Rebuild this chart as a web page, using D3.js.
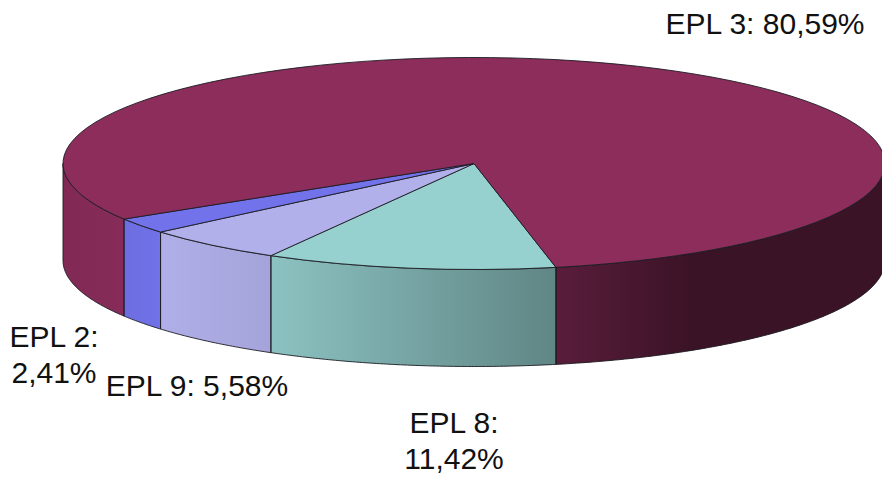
<!DOCTYPE html>
<html>
<head>
<meta charset="utf-8">
<script src="https://cdnjs.cloudflare.com/ajax/libs/d3/7.8.5/d3.min.js"></script>
<style>
  html, body { margin: 0; padding: 0; background: #fff; overflow: hidden; }
  text { font-family: "Liberation Sans", Arial, sans-serif; font-size: 30px; fill: #111; }
</style>
</head>
<body>
<svg width="882" height="477"></svg>
<script>
const categories = ['EPL 8', 'EPL 9', 'EPL 2', 'EPL 3'];
const shares = [11.42, 5.58, 2.41, 80.59];
const colors = ['#96d1d0', '#b1b0ea', '#7272ea', '#8c2d5c'];

// label lines and where they sit, same order as categories
const labelBreaks = [true, false, true, false];
const labelX = [454, 197, 54, 765];
const labelY = [433, 396, 347, 34];

const cx = 474, cy = 163.5, rx = 411, ry = 106, depth = 97;
const startDeg = 168.5;
const rad = Math.PI / 180;

const svg = d3.select('svg');
const defs = svg.append('defs');

// wall shading, dark overlay that grows to the right
const shadeX = [63, 160, 270, 555, 690, 882];
const shadeO = [0.08, 0.01, 0.07, 0.36, 0.58, 0.58];
defs.append('linearGradient')
  .attr('id', 'shade')
  .attr('gradientUnits', 'userSpaceOnUse')
  .attr('x1', 63).attr('x2', 882).attr('y1', 0).attr('y2', 0)
  .selectAll('stop')
  .data(shadeX)
  .join('stop')
  .attr('offset', d => (d - 63) / (882 - 63))
  .attr('stop-color', '#000')
  .attr('stop-opacity', (d, i) => shadeO[i]);

const pie = d3.pie()
  .sort(null)
  .startAngle(startDeg * rad)
  .endAngle((startDeg + 360) * rad);
const slices = pie(shares);

const arc = d3.arc().innerRadius(0).outerRadius(rx);
const line = d3.line();

const px = a => cx + rx * Math.sin(a);
const py = a => cy - ry * Math.cos(a);

// outline of the part of a slice's rim that faces the viewer
function wallPath(lo, hi) {
  const n = Math.max(2, Math.ceil((hi - lo) / (rad / 2)));
  const top = d3.range(n + 1).map(i => lo + (hi - lo) * i / n);
  const pts = top.map(a => [px(a), py(a)])
    .concat(top.slice().reverse().map(a => [px(a), py(a) + depth]));
  return line(pts) + 'Z';
}

const walls = [];
slices.forEach((s, i) => {
  [0, 1].forEach(k => {
    const lo = Math.max(s.startAngle, (90 + 360 * k) * rad);
    const hi = Math.min(s.endAngle, (270 + 360 * k) * rad);
    if (hi > lo) walls.push({ lo, hi, color: colors[i] });
  });
});

const wallG = svg.append('g');
wallG.selectAll('path.base')
  .data(walls)
  .join('path')
  .attr('class', 'base')
  .attr('d', d => wallPath(d.lo, d.hi))
  .attr('fill', d => d.color);
wallG.selectAll('path.over')
  .data(walls)
  .join('path')
  .attr('class', 'over')
  .attr('d', d => wallPath(d.lo, d.hi))
  .attr('fill', 'url(#shade)')
  .attr('stroke', '#1c1c22')
  .attr('stroke-width', 0.9)
  .attr('stroke-linejoin', 'round');

svg.append('g')
  .attr('transform', `translate(${cx},${cy}) scale(1,${ry / rx})`)
  .selectAll('path')
  .data(slices)
  .join('path')
  .attr('d', arc)
  .attr('fill', (d, i) => colors[i])
  .attr('stroke', '#1c1c22')
  .attr('stroke-width', 0.9)
  .attr('stroke-linejoin', 'round')
  .attr('vector-effect', 'non-scaling-stroke');

const fmt = v => v.toFixed(2).replace('.', ',') + '%';

const labels = svg.append('g')
  .selectAll('text')
  .data(categories)
  .join('text')
  .attr('text-anchor', 'middle')
  .attr('x', (d, i) => labelX[i])
  .attr('y', (d, i) => labelY[i]);

labels.each(function (d, i) {
  const t = d3.select(this);
  if (labelBreaks[i]) {
    t.append('tspan').attr('x', labelX[i]).text(d + ':');
    t.append('tspan').attr('x', labelX[i]).attr('dy', 36).text(fmt(shares[i]));
  } else {
    t.text(d + ': ' + fmt(shares[i]));
  }
});
</script>
</body>
</html>
